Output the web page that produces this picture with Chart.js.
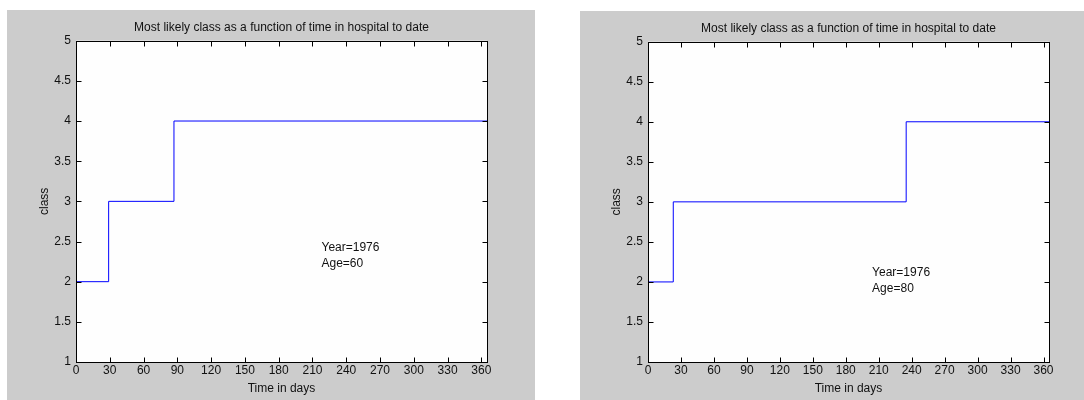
<!DOCTYPE html>
<html>
<head>
<meta charset="utf-8">
<script src="https://cdn.jsdelivr.net/npm/chart.js@4.4.0/dist/chart.umd.min.js"></script>
<style>
  html, body { margin: 0; padding: 0; background: #fff; width: 1084px; height: 400px; overflow: hidden; }
  .panel { position: absolute; background: #cccccc; }
  #p1 { left: 7px; top: 10px; width: 528px; height: 390px; }
  #p2 { left: 580px; top: 11px; width: 504px; height: 389px; }
  canvas { display: block; }
</style>
</head>
<body>
<div class="panel" id="p1"><canvas id="c1" width="528" height="390"></canvas></div>
<div class="panel" id="p2"><canvas id="c2" width="504" height="389"></canvas></div>
<script>
// data
const titleText = 'Most likely class as a function of time in hospital to date';
const xTickValues = [0, 30, 60, 90, 120, 150, 180, 210, 240, 270, 300, 330, 360];
const yTickValues = [1, 1.5, 2, 2.5, 3, 3.5, 4, 4.5, 5];

const daysLeft = [0, 29, 87, 365];
const classLeft = [2, 3, 4, 4];
const noteLeft = ['Year=1976', 'Age=60'];

const daysRight = [0, 23, 235, 365];
const classRight = [2, 3, 4, 4];
const noteRight = ['Year=1976', 'Age=80'];

const FONT = { family: '"Liberation Sans", Arial, sans-serif', size: 12, weight: 'normal' };
const TEXT = '#111';

// white axes box, inward ticks on all four sides, text note
const matlabBox = {
  id: 'matlabBox',
  beforeDraw(chart) {
    const a = chart.chartArea, ctx = chart.ctx;
    ctx.save();
    ctx.fillStyle = '#fefefe';
    ctx.fillRect(a.left, a.top, a.right - a.left, a.bottom - a.top);
    ctx.restore();
  },
  afterDraw(chart, args, opts) {
    const a = chart.chartArea, ctx = chart.ctx;
    const xs = chart.scales.x, ys = chart.scales.y;
    const L = Math.round(a.left) + 0.5, R = Math.round(a.right) + 0.5;
    const T = Math.round(a.top) + 0.5, B = Math.round(a.bottom) + 0.5;
    ctx.save();
    ctx.strokeStyle = '#000';
    ctx.lineWidth = 1;
    ctx.beginPath();
    xs.ticks.forEach(t => {
      const px = Math.round(xs.getPixelForValue(t.value)) + 0.5;
      ctx.moveTo(px, B); ctx.lineTo(px, B - 5);
      ctx.moveTo(px, T); ctx.lineTo(px, T + 5);
    });
    ys.ticks.forEach(t => {
      const py = Math.round(ys.getPixelForValue(t.value)) + 0.5;
      ctx.moveTo(L, py); ctx.lineTo(L + 5, py);
      ctx.moveTo(R, py); ctx.lineTo(R - 5, py);
    });
    ctx.stroke();
    ctx.strokeRect(L, T, R - L, B - T);

    ctx.fillStyle = TEXT;
    ctx.font = '12px ' + FONT.family;
    ctx.textAlign = 'left';
    ctx.textBaseline = 'middle';
    opts.lines.forEach((s, i) => {
      ctx.fillText(s, xs.getPixelForValue(opts.x), ys.getPixelForValue(opts.y) + i * 16);
    });
    ctx.restore();
  }
};

function makeChart(id, days, cls, note, noteX, noteY, yWidth, rightPad, classOffset) {
  return new Chart(document.getElementById(id), {
    type: 'line',
    data: {
      datasets: [{
        data: days.map((d, i) => ({ x: d, y: cls[i] })),
        borderColor: '#0000ff',
        borderWidth: 1,
        pointRadius: 0,
        stepped: true,
        fill: false
      }]
    },
    options: {
      responsive: false,
      animation: false,
      devicePixelRatio: 1,
      layout: { padding: { left: 0, right: rightPad, top: 0, bottom: 0 } },
      plugins: {
        legend: { display: false },
        tooltip: { enabled: false },
        title: {
          display: true, text: titleText, color: TEXT, font: FONT, fullSize: false,
          padding: { top: 10.5, bottom: 5.8 }
        },
        matlabBox: { lines: note, x: noteX, y: noteY }
      },
      scales: {
        x: {
          type: 'linear', min: 0, max: 365,
          grid: { display: false, drawTicks: false, tickLength: 0 }, border: { display: false },
          afterBuildTicks: s => { s.ticks = xTickValues.map(v => ({ value: v })); },
          afterFit: s => { s.height = 38; },
          ticks: { color: TEXT, font: FONT, padding: 1.5, maxRotation: 0, autoSkip: false, callback: v => String(v) },
          title: { display: true, text: 'Time in days', color: TEXT, font: FONT, padding: { top: 0, bottom: 4.5 } }
        },
        y: {
          type: 'linear', min: 1, max: 5,
          grid: { display: false, drawTicks: false, tickLength: 0 }, border: { display: false },
          afterBuildTicks: s => { s.ticks = yTickValues.map(v => ({ value: v })); },
          afterFit: s => { s.width = yWidth; },
          ticks: { color: TEXT, font: FONT, padding: 5, autoSkip: false, callback: v => String(v) },
          title: { display: true, text: 'class', color: TEXT, font: FONT, padding: { top: classOffset, bottom: 0 } }
        }
      }
    },
    plugins: [matlabBox]
  });
}

makeChart('c1', daysLeft, classLeft, noteLeft, 218, 2.42, 69, 48, 30);
makeChart('c2', daysRight, classRight, noteRight, 204, 2.11, 68, 35, 29);
</script>
</body>
</html>
